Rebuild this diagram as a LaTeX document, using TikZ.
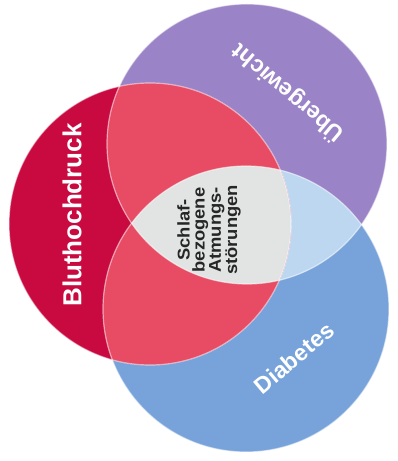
\documentclass[tikz,border=0pt]{standalone}
\usepackage{fontspec}
\setmainfont{Liberation Sans}
\definecolor{crimson}{HTML}{C80A41}
\definecolor{pinkred}{HTML}{E84B64}
\definecolor{lilac}{HTML}{9A83C6}
\definecolor{skyblue}{HTML}{77A3DA}
\definecolor{paleblue}{HTML}{BED7F0}
\definecolor{centergrey}{HTML}{E2E4E4}
\begin{document}
\begin{tikzpicture}[x=1pt,y=1pt,
  edge/.style={draw=white, draw opacity=0.55, line width=1.2pt},
  biglabel/.style={text=white, inner sep=0pt, font=\bfseries\fontsize{26}{28}\selectfont},
  midlabel/.style={text=white, inner sep=0pt, font=\bfseries\fontsize{23}{25}\selectfont},
  centerlabel/.style={text=black!85, inner sep=0pt, align=center, font=\bfseries\fontsize{17}{15}\selectfont}]
\useasboundingbox (0,0) rectangle (398,461);
\fill[white] (0,0) rectangle (398,461);
\coordinate (R) at (150,237);
\coordinate (P) at (247,317);
\coordinate (B) at (246,152);
% base circles
\fill[lilac] (P) circle (140);
\fill[skyblue] (B) circle (143);
\begin{scope}
  \clip (P) circle (140);
  \fill[paleblue] (B) circle (143);
\end{scope}
\fill[crimson] (R) circle (141);
\begin{scope}
  \clip (R) circle (141);
  \fill[pinkred] (P) circle (140);
  \fill[pinkred] (B) circle (143);
  \clip (P) circle (140);
  \fill[centergrey] (B) circle (143);
\end{scope}
% light edges
\draw[edge] (P) circle (140);
\draw[edge] (B) circle (143);
\draw[edge] (R) circle (141);
% labels
\node[biglabel, rotate=90] (bl) at (72,246) {Bluthochdruck};
\node[midlabel, rotate=140] (ub) at (288,368) {Übergewicht};
\node[midlabel, rotate=40] (di) at (294,103) {Diabetes};
\node[centerlabel, rotate=90] (ce) at (209,231) {\scalebox{1.08}[1]{Schlaf-}\\\scalebox{1.08}[1]{bezogene}\\\scalebox{1.08}[1]{Atmungs-}\\\scalebox{1.08}[1]{störungen}};
\end{tikzpicture}
\end{document}
